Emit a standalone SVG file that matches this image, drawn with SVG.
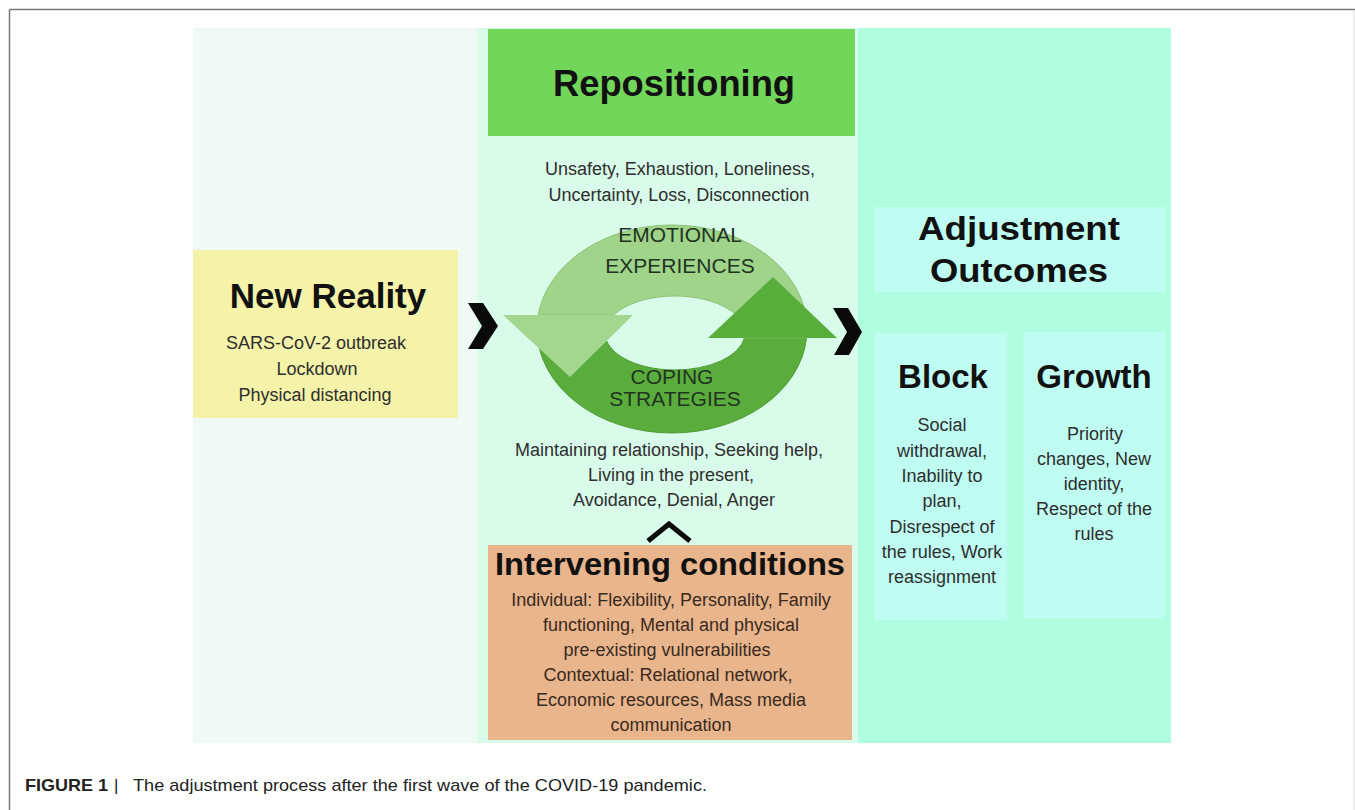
<svg xmlns="http://www.w3.org/2000/svg" width="1355" height="810" viewBox="0 0 1355 810">
  <style>
    .h { font-family: "Liberation Sans", Arial, sans-serif; font-weight: bold; fill: #111; text-anchor: middle; }
    .b { font-family: "Liberation Sans", Arial, sans-serif; font-size: 18px; fill: #2e2e2e; text-anchor: middle; }
    .cyc { font-family: "Liberation Sans", Arial, sans-serif; font-size: 21px; fill: #223322; text-anchor: middle; }
    .chev { fill: #0a0a0a; }
    .cap { font-family: "Liberation Sans", Arial, sans-serif; font-size: 17px; fill: #222; }
  </style>

  <rect width="1355" height="810" fill="#ffffff"/>
  <!-- page frame -->
  <line x1="9.5" y1="9.5" x2="1355" y2="9.5" stroke="#7a7a7a" stroke-width="1.5"/>
  <line x1="9.5" y1="9.5" x2="9.5" y2="810" stroke="#7a7a7a" stroke-width="1.5"/>
  <line x1="1354" y1="10" x2="1354" y2="810" stroke="#dddddd" stroke-width="1"/>

  <!-- column backgrounds -->
  <g id="columns">
    <rect x="193" y="28" width="284" height="715" fill="#f1f9f7"/>
    <rect x="477" y="28" width="382" height="715" fill="#d9fbe9"/>
    <rect x="858" y="28" width="313" height="715" fill="#b0fde0"/>
  </g>

  <g id="new-reality">
    <rect x="193" y="250" width="265" height="168" fill="#f4f3a9"/>
    <text class="h" x="328" y="308" font-size="35">New Reality</text>
    <text class="b" x="316" y="349">SARS-CoV-2 outbreak</text>
    <text class="b" x="317" y="375">Lockdown</text>
    <text class="b" x="315" y="401">Physical distancing</text>
  </g>

  <g id="repositioning">
    <rect x="488" y="29" width="367" height="107" fill="#72d65a"/>
    <text class="h" x="674" y="96" font-size="36" textLength="242" lengthAdjust="spacingAndGlyphs">Repositioning</text>
    <text class="b" x="680" y="175">Unsafety, Exhaustion, Loneliness,</text>
    <text class="b" x="679" y="201">Uncertainty, Loss, Disconnection</text>
  </g>

  <!-- cycle of emotional experiences and coping strategies -->
  <g id="cycle">
    <!-- lower ring (coping) -->
    <path d="M537,329 A135,104 0 0,0 672,433 A135,104 0 0,0 806.5,338 L744.4,338 A70,37 0 0,1 675,370 A70,37 0 0,1 605.4,329 Z" fill="#5aad3d" stroke="#4f9a36" stroke-width="1"/>
    <!-- upper ring (emotions) -->
    <path d="M806.5,338 A135,104 0 0,0 672,225 A135,104 0 0,0 538.2,315 L613.8,315 A70,37 0 0,1 675,296 A70,37 0 0,1 744.4,338 Z" fill="#9fd48a" stroke="#8cc278" stroke-width="1"/>
    <!-- arrowheads -->
    <polygon points="503,315 633,315 570,377" fill="#a3d68f"/>
    <polygon points="708,338 837,338 773,277" fill="#58ad3b"/>
    <text class="cyc" x="680" y="242">EMOTIONAL</text>
    <text class="cyc" x="680" y="273">EXPERIENCES</text>
    <text class="cyc" x="672" y="384" font-size="20">COPING</text>
    <text class="cyc" x="675" y="406" font-size="20">STRATEGIES</text>
    <text class="b" x="669" y="456">Maintaining relationship, Seeking help,</text>
    <text class="b" x="671" y="481">Living in the present,</text>
    <text class="b" x="674" y="506">Avoidance, Denial, Anger</text>
  </g>

  <g id="intervening-conditions">
    <rect x="488" y="545" width="364" height="195" fill="#e8b58c"/>
    <text class="h" x="670" y="575" font-size="32" textLength="350" lengthAdjust="spacingAndGlyphs">Intervening conditions</text>
    <g class="b" style="fill:#3a2a1e">
      <text x="671" y="606">Individual: Flexibility, Personality, Family</text>
      <text x="671" y="631">functioning, Mental and physical</text>
      <text x="667" y="656">pre-existing vulnerabilities</text>
      <text x="668" y="681">Contextual: Relational network,</text>
      <text x="671" y="706">Economic resources, Mass media</text>
      <text x="671" y="731">communication</text>
    </g>
  </g>

  <g id="adjustment-outcomes">
    <rect x="875" y="207" width="290" height="85" fill="#bffcf2"/>
    <text class="h" x="1019" y="240" font-size="33" textLength="202" lengthAdjust="spacingAndGlyphs">Adjustment</text>
    <text class="h" x="1019" y="282" font-size="33" textLength="178" lengthAdjust="spacingAndGlyphs">Outcomes</text>
  </g>

  <g id="block">
    <rect x="875" y="333" width="132" height="287" fill="#bffcf2"/>
    <text class="h" x="943" y="388" font-size="33">Block</text>
    <text class="b" x="942" y="431">Social</text>
    <text class="b" x="942" y="457">withdrawal,</text>
    <text class="b" x="942" y="482">Inability to</text>
    <text class="b" x="942" y="507">plan,</text>
    <text class="b" x="942" y="533">Disrespect of</text>
    <text class="b" x="942" y="558">the rules, Work</text>
    <text class="b" x="942" y="583">reassignment</text>
  </g>

  <g id="growth">
    <rect x="1023" y="332" width="142" height="286" fill="#bffcf2"/>
    <text class="h" x="1094" y="388" font-size="33">Growth</text>
    <text class="b" x="1095" y="440">Priority</text>
    <text class="b" x="1094" y="465">changes, New</text>
    <text class="b" x="1094" y="490">identity,</text>
    <text class="b" x="1094" y="515">Respect of the</text>
    <text class="b" x="1094" y="540">rules</text>
  </g>

  <!-- flow markers between stages -->
  <g id="connectors">
    <polygon class="chev" points="468,303 483,303 498,326 483,349 468,349 482,326"/>
    <polygon class="chev" points="833,308 848,308 862,332 849,355 834,355 847,332"/>
    <polyline points="648,541 669,524 690,541" fill="none" stroke="#0a0a0a" stroke-width="5"/>
  </g>

  <g id="caption">
    <text class="cap" x="25" y="791" font-weight="bold" textLength="83" lengthAdjust="spacingAndGlyphs">FIGURE 1</text>
    <text class="cap" x="114" y="791">|</text>
    <text class="cap" x="133" y="791" textLength="574" lengthAdjust="spacingAndGlyphs">The adjustment process after the first wave of the COVID-19 pandemic.</text>
  </g>
</svg>
